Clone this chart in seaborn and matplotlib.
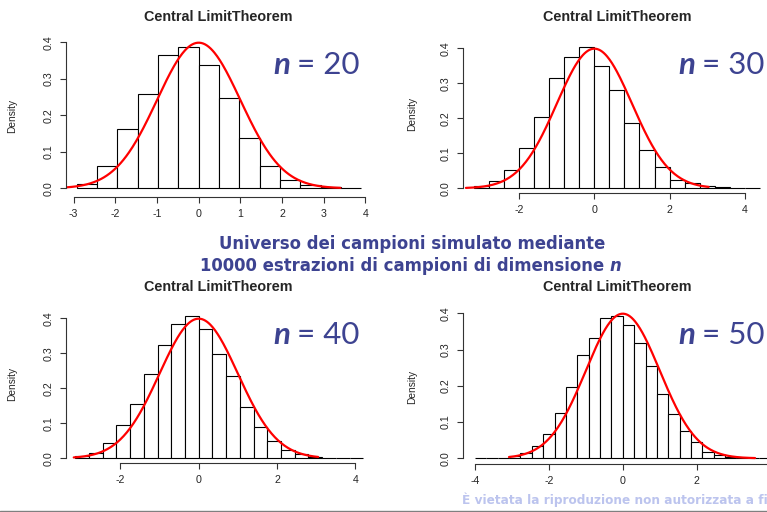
import numpy as np
import pandas as pd
import matplotlib
matplotlib.use("Agg")
import matplotlib.pyplot as plt
from matplotlib.lines import Line2D
import seaborn as sns

W, H = 767, 512

# sample sizes of the four panels
sizes = [20, 30, 40, 50]

# histogram breaks (first edge, bin width)
first_edge = [-2.93, -3.2, -3.15, -4.0]
bin_width = [0.488, 0.4, 0.35, 0.3077]

# bar heights (density)
dens_20 = [0.012, 0.060, 0.162, 0.258, 0.366, 0.388, 0.337, 0.247, 0.137, 0.062,
           0.022, 0.009, 0.004, 0.002]
dens_30 = [0.008, 0.021, 0.051, 0.115, 0.203, 0.316, 0.376, 0.405, 0.350, 0.281,
           0.186, 0.110, 0.060, 0.023, 0.014, 0.006, 0.003, 0.001, 0.001]
dens_40 = [0.008, 0.016, 0.045, 0.094, 0.154, 0.242, 0.325, 0.385, 0.406, 0.370,
           0.297, 0.234, 0.146, 0.090, 0.049, 0.025, 0.011, 0.003, 0.002, 0.001,
           0.001]
dens_50 = [0.0, 0.0, 0.0, 0.007, 0.015, 0.035, 0.068, 0.124, 0.196, 0.284,
           0.331, 0.386, 0.393, 0.368, 0.317, 0.255, 0.177, 0.121, 0.075, 0.044,
           0.018, 0.010, 0.004, 0.002, 0.001, 0.0]
densities = [dens_20, dens_30, dens_40, dens_50]

# range over which the normal curve is drawn
curve_lo = [-3.2, -3.42, -3.19, -3.08]
curve_hi = [3.4, 3.04, 3.05, 3.58]
curve_mean, curve_sd = 0.0, 1.0

x_ticks = [[-3, -2, -1, 0, 1, 2, 3, 4], [-2, 0, 2, 4], [-2, 0, 2, 4], [-4, -2, 0, 2]]
x_axis_end = [4, 4, 4, 4]
y_ticks = [0.0, 0.1, 0.2, 0.3, 0.4]

title = "Central LimitTheorem"
center_line1 = "Universo dei campioni simulato mediante"
center_line2 = "10000 estrazioni di campioni di dimensione "
footer = "È vietata la riproduzione non autorizzata a fini commerciali"

# layout in pixels: axes box (left, top, right, bottom), data origin and scale
boxes = [(65.7, 35, 378, 197), (462.7, 35, 764, 193.3),
         (65.7, 305, 368, 463.3), (462.7, 309, 790, 464)]
origins = [(198.7, 41.67, 188.3, 365.0), (594.4, 37.57, 188.3, 350.0),
           (198.7, 39.17, 458.3, 350.0), (622.8, 36.95, 458.3, 362.5)]
title_px = [(218.5, 17), (617.3, 17), (218.5, 286.7), (617.3, 286.7)]
ylab_px = [17, 416.7, 17, 416.7]
label_px = [(273, 65), (678, 65), (273, 335), (678, 335)]

blue = "#3d4391"

sns.set_style("ticks")
plt.rcParams['font.family'] = ['Liberation Sans', 'DejaVu Sans']
plt.rcParams['axes.unicode_minus'] = False

fig = plt.figure(figsize=(W / 100, H / 100), dpi=100)

for i in range(4):
    left, top, right, bottom = boxes[i]
    x0, xs, y0, ys = origins[i]
    ax = fig.add_axes([left / W, 1 - bottom / H, (right - left) / W, (bottom - top) / H])

    edges = first_edge[i] + bin_width[i] * np.arange(len(densities[i]) + 1)
    df = pd.DataFrame({"x": (edges[:-1] + edges[1:]) / 2, "density": densities[i]})
    sns.histplot(data=df, x="x", weights="density", bins=list(edges), stat="count",
                 color="white", edgecolor="black", linewidth=0.8, alpha=1, ax=ax)

    xs_curve = np.linspace(curve_lo[i], curve_hi[i], 300)
    pdf = np.exp(-0.5 * ((xs_curve - curve_mean) / curve_sd) ** 2) / (curve_sd * np.sqrt(2 * np.pi))
    sns.lineplot(x=xs_curve, y=pdf, color="red", linewidth=1.6, ax=ax)

    ax.set_xlim((left - x0) / xs, (right - x0) / xs)
    ax.set_ylim((y0 - bottom) / ys, (y0 - top) / ys)
    ax.set_xticks(x_ticks[i])
    ax.set_yticks(y_ticks)
    ax.set_yticklabels([f"{v:.1f}" for v in y_ticks], rotation=90, va="center")
    ax.tick_params(labelsize=7.7, length=4, width=0.8, pad=4.5, color="#333333")
    sns.despine(ax=ax)
    ax.spines['left'].set_bounds(y_ticks[0], y_ticks[-1])
    ax.spines['bottom'].set_bounds(x_ticks[i][0], x_axis_end[i])
    for s in ['left', 'bottom']:
        ax.spines[s].set_linewidth(0.8)
        ax.spines[s].set_color("#333333")

    ax.set_xlabel("")
    ax.set_ylabel("Density", fontsize=7.3)
    ax.yaxis.set_label_coords((ylab_px[i] - left) / (right - left), 0.5)

    tx, ty = title_px[i]
    fig.text(tx / W, 1 - ty / H, title, ha="center", va="center",
             fontsize=10.4, fontweight="bold")

    lx, ly = label_px[i]
    t1 = fig.text(lx / W, 1 - ly / H, "n", ha="left", va="center", fontsize=22.5,
                  fontweight="bold", style="italic", color=blue, family="Lato")
    ax.annotate(f"= {sizes[i]}", xy=(1, 0.5), xycoords=t1, xytext=(5, 0),
                textcoords="offset points", ha="left", va="center",
                fontsize=22.5, color=blue, family="Lato", annotation_clip=False)

# centre caption
fig.text(412 / W, 1 - 244 / H, center_line1, ha="center", va="center",
         fontsize=11.9, fontweight="bold", color=blue, family="DejaVu Sans")
c2 = fig.text(200 / W, 1 - 266 / H, center_line2, ha="left", va="center",
              fontsize=11.9, fontweight="bold", color=blue, family="DejaVu Sans")
plt.annotate("n", xy=(1, 0.5), xycoords=c2, ha="left", va="center", fontsize=11.9,
             fontweight="bold", style="italic", color=blue, family="DejaVu Sans",
             annotation_clip=False)

# footer (cut by the right edge, as in the slide) and bottom rule
fig.text(462 / W, 1 - 500 / H, footer, ha="left", va="center", fontsize=8.7,
         fontweight="bold", color="#bcc4ee", family="DejaVu Sans")
fig.add_artist(Line2D([0, 1], [1 - 510.7 / H] * 2, color="#7f7f7f", linewidth=1))

plt.savefig("out.png", dpi=100)
plt.close()
